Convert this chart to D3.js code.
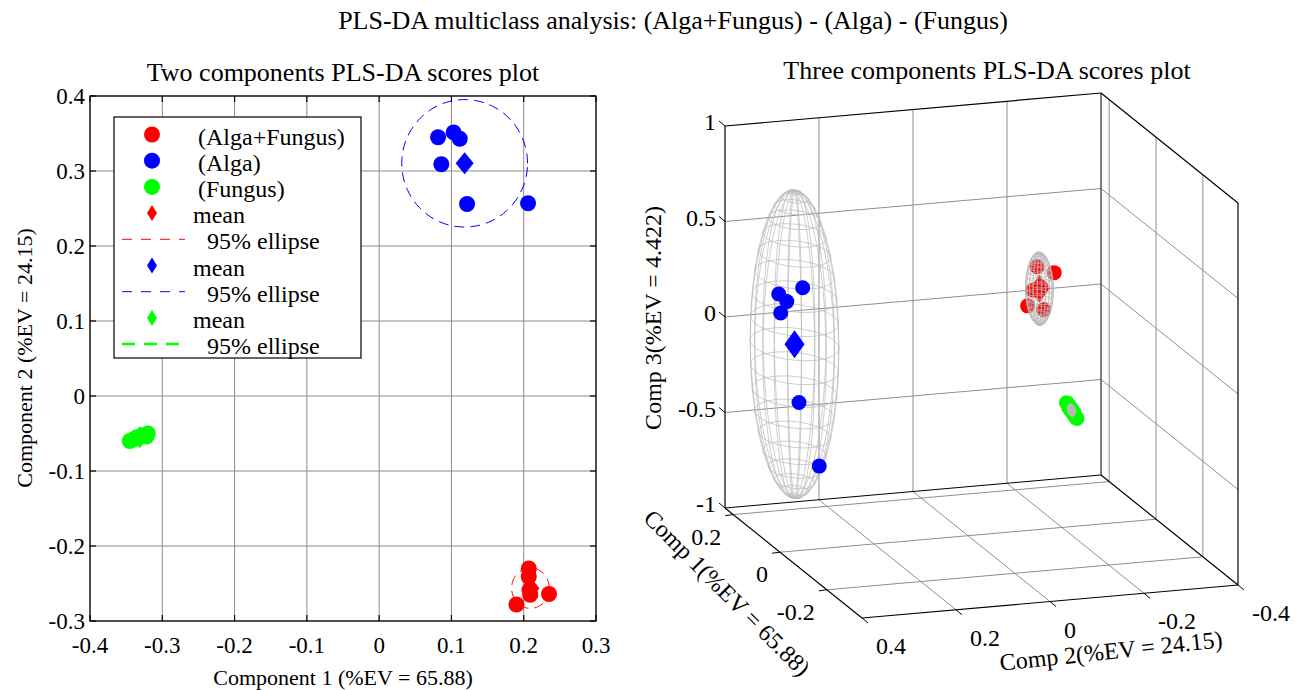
<!DOCTYPE html>
<html>
<head>
<meta charset="utf-8">
<script src="https://cdn.jsdelivr.net/npm/d3@7"></script>
<style>
  body { margin: 0; background: #fff; }
  svg { display: block; }
</style>
</head>
<body>
<div id="chart"></div>
<script>
// Groups
const groupNames = ["(Alga+Fungus)", "(Alga)", "(Fungus)"];
const groupColors = ["#ff0000", "#0000ff", "#00ff00"];

// Scores (comp 1, comp 2, comp 3)
const algaFungusComp1 = [0.207, 0.207, 0.208, 0.209, 0.190, 0.235];
const algaFungusComp2 = [-0.230, -0.241, -0.259, -0.265, -0.278, -0.264];
const algaFungusComp3 = [-0.05, 0.03, 0.04, -0.08, 0.13, 0.12];

const algaComp1 = [0.0815, 0.103, 0.1115, 0.086, 0.1216, 0.206];
const algaComp2 = [0.345, 0.3515, 0.343, 0.309, 0.256, 0.257];
const algaComp3 = [0.22, 0.24, 0.13, 0.28, -0.70, -0.45];

const fungusComp1 = [-0.345, -0.340, -0.335, -0.325, -0.320, -0.322];
const fungusComp2 = [-0.060, -0.058, -0.055, -0.052, -0.050, -0.054];
const fungusComp3 = [-0.06, -0.05, -0.03, -0.01, 0.00, -0.02];

// 95% ellipse / ellipsoid half-axes per group
const ellipseRadius1 = [0.026, 0.087, 0.012];
const ellipseRadius2 = [0.027, 0.085, 0.006];
const ellipsoidRadius3 = [0.19, 0.805, 0.03];

// Ticks
const xTicks2d = [-0.4, -0.3, -0.2, -0.1, 0, 0.1, 0.2, 0.3];
const yTicks2d = [-0.3, -0.2, -0.1, 0, 0.1, 0.2, 0.3, 0.4];
const comp1Ticks3d = [0.2, 0, -0.2];
const comp2Ticks3d = [0.4, 0.2, 0, -0.2, -0.4];
const comp3Ticks3d = [1, 0.5, 0, -0.5, -1];

const comp1Lim = [-0.35, 0.235];
const comp2Lim = [-0.4, 0.4];
const comp3Lim = [-1, 1];

// Build group records
const groups = [
  [algaFungusComp1, algaFungusComp2, algaFungusComp3],
  [algaComp1, algaComp2, algaComp3],
  [fungusComp1, fungusComp2, fungusComp3]
].map((g, i) => {
  const pts = g[0].map((v, k) => ({ c1: v, c2: g[1][k], c3: g[2][k] }));
  return {
    name: groupNames[i],
    color: groupColors[i],
    points: pts,
    mean: { c1: d3.mean(pts, d => d.c1), c2: d3.mean(pts, d => d.c2), c3: d3.mean(pts, d => d.c3) },
    r1: ellipseRadius1[i], r2: ellipseRadius2[i], r3: ellipsoidRadius3[i]
  };
});

const W = 1295, H = 690;
const serif = "'Liberation Serif', 'Times New Roman', serif";
const svg = d3.select("#chart").append("svg").attr("width", W).attr("height", H)
  .attr("font-family", serif);
const fmt = d => d === 0 ? "0" : String(d);
const gridColor = "#8c8c8c";
const tickSize2d = 23, labelSize2d = 22, titleSize = 26, legendSize = 24;
const tickSize3d = 24, labelSize3d = 24;

function diamondPath(w, h) {
  return `M0,${-h}L${w},0L0,${h}L${-w},0Z`;
}

// Title
svg.append("text").attr("x", 673).attr("y", 20).attr("text-anchor", "middle")
  .attr("dominant-baseline", "central").attr("font-size", titleSize)
  .text("PLS-DA multiclass analysis: (Alga+Fungus) - (Alga) - (Fungus)");

// ---------- 2D scores plot ----------
const x2 = d3.scaleLinear().domain([-0.4, 0.3]).range([90, 596]);
const y2 = d3.scaleLinear().domain([-0.3, 0.4]).range([621, 96]);
const g2 = svg.append("g");

g2.append("text").attr("x", 343).attr("y", 72).attr("text-anchor", "middle")
  .attr("dominant-baseline", "central").attr("font-size", titleSize)
  .text("Two components PLS-DA scores plot");

// grid
g2.selectAll(".vgrid").data(xTicks2d).enter().append("line")
  .attr("x1", d => x2(d)).attr("x2", d => x2(d))
  .attr("y1", y2.range()[0]).attr("y2", y2.range()[1])
  .attr("stroke", gridColor).attr("stroke-width", 1);
g2.selectAll(".hgrid").data(yTicks2d).enter().append("line")
  .attr("y1", d => y2(d)).attr("y2", d => y2(d))
  .attr("x1", x2.range()[0]).attr("x2", x2.range()[1])
  .attr("stroke", gridColor).attr("stroke-width", 1);

// box + inward ticks
g2.append("rect").attr("x", x2(-0.4)).attr("y", y2(0.4))
  .attr("width", x2(0.3) - x2(-0.4)).attr("height", y2(-0.3) - y2(0.4))
  .attr("fill", "none").attr("stroke", "#000").attr("stroke-width", 1.2);
xTicks2d.forEach(t => {
  [[y2(-0.3), -6], [y2(0.4), 6]].forEach(([yy, dy]) => {
    g2.append("line").attr("x1", x2(t)).attr("x2", x2(t)).attr("y1", yy).attr("y2", yy + dy)
      .attr("stroke", "#000").attr("stroke-width", 1.2);
  });
});
yTicks2d.forEach(t => {
  [[x2(-0.4), 6], [x2(0.3), -6]].forEach(([xx, dx]) => {
    g2.append("line").attr("y1", y2(t)).attr("y2", y2(t)).attr("x1", xx).attr("x2", xx + dx)
      .attr("stroke", "#000").attr("stroke-width", 1.2);
  });
});

// tick labels
g2.selectAll(".xlab").data(xTicks2d).enter().append("text")
  .attr("x", d => x2(d)).attr("y", 645).attr("text-anchor", "middle")
  .attr("dominant-baseline", "central").attr("font-size", tickSize2d).text(fmt);
g2.selectAll(".ylab").data(yTicks2d).enter().append("text")
  .attr("x", 85).attr("y", d => y2(d)).attr("text-anchor", "end")
  .attr("dominant-baseline", "central").attr("font-size", tickSize2d).text(fmt);

// axis labels
g2.append("text").attr("x", 343).attr("y", 677).attr("text-anchor", "middle")
  .attr("dominant-baseline", "central").attr("font-size", labelSize2d)
  .text("Component 1 (%EV = 65.88)");
g2.append("text").attr("transform", "translate(24,358) rotate(-90)")
  .attr("text-anchor", "middle").attr("dominant-baseline", "central")
  .attr("font-size", labelSize2d).text("Component 2 (%EV = 24.15)");

// scatter
groups.forEach(g => {
  g2.selectAll(null).data(g.points).enter().append("circle")
    .attr("cx", d => x2(d.c1)).attr("cy", d => y2(d.c2)).attr("r", 8)
    .attr("fill", g.color);
});
// means + ellipses
const ellipseLine = d3.line();
groups.forEach((g, i) => {
  g2.append("path").attr("d", diamondPath(9, 11))
    .attr("transform", `translate(${x2(g.mean.c1)},${y2(g.mean.c2)})`)
    .attr("fill", g.color);
  const pts = d3.range(0, 361, 4).map(a => {
    const t = a * Math.PI / 180;
    return [x2(g.mean.c1 + g.r1 * Math.cos(t)), y2(g.mean.c2 + g.r2 * Math.sin(t))];
  });
  g2.append("path").attr("d", ellipseLine(pts)).attr("fill", "none")
    .attr("stroke", g.color).attr("stroke-width", i === 2 ? 2 : 1)
    .attr("stroke-dasharray", "10,6");
});

// legend
const leg = g2.append("g");
leg.append("rect").attr("x", 114).attr("y", 117).attr("width", 247).attr("height", 241)
  .attr("fill", "#fff").attr("stroke", "#000").attr("stroke-width", 1.2);
const rowY = i => 134.5 + i * 26.2;
groups.forEach((g, i) => {
  leg.append("circle").attr("cx", 152).attr("cy", rowY(i)).attr("r", 8).attr("fill", g.color);
  leg.append("text").attr("x", 198).attr("y", rowY(i) + 2).attr("dominant-baseline", "central")
    .attr("font-size", legendSize).text(g.name);
});
groups.forEach((g, i) => {
  const rm = 3 + i * 2, re = 4 + i * 2;
  leg.append("path").attr("d", diamondPath(5, 8))
    .attr("transform", `translate(152,${rowY(rm)})`).attr("fill", g.color);
  leg.append("text").attr("x", 193).attr("y", rowY(rm) + 2).attr("dominant-baseline", "central")
    .attr("font-size", legendSize).text("mean");
  leg.append("line").attr("x1", 122).attr("x2", 185).attr("y1", rowY(re)).attr("y2", rowY(re))
    .attr("stroke", g.color).attr("stroke-width", i === 2 ? 2.5 : 1)
    .attr("stroke-dasharray", i === 2 ? "13,9" : "10,9");
  leg.append("text").attr("x", 207).attr("y", rowY(re) + 2).attr("dominant-baseline", "central")
    .attr("font-size", legendSize).text("95% ellipse");
});

// ---------- 3D scores plot ----------
const g3 = svg.append("g");
g3.append("text").attr("x", 987).attr("y", 70).attr("text-anchor", "middle")
  .attr("dominant-baseline", "central").attr("font-size", titleSize)
  .text("Three components PLS-DA scores plot");

// oblique projection: fractions along each axis through linear scales
const f1 = d3.scaleLinear().domain([comp1Lim[1], comp1Lim[0]]).range([0, 1]);
const f2 = d3.scaleLinear().domain([comp2Lim[1], comp2Lim[0]]).range([0, 1]);
const f3 = d3.scaleLinear().domain(comp3Lim).range([0, 1]);
const origin = [725, 508], v1 = [137, 110], v2 = [376, -33], v3 = [0, -382];
function proj(a, b, c) {
  const t1 = f1(a), t2 = f2(b), t3 = f3(c);
  return [origin[0] + t1 * v1[0] + t2 * v2[0] + t3 * v3[0],
          origin[1] + t1 * v1[1] + t2 * v2[1] + t3 * v3[1]];
}
const c1max = comp1Lim[1], c1min = comp1Lim[0];
function seg(p, q, color, w) {
  g3.append("line").attr("x1", p[0]).attr("y1", p[1]).attr("x2", q[0]).attr("y2", q[1])
    .attr("stroke", color).attr("stroke-width", w);
}
const wallGrid = "#8f8f8f";
// left back wall
comp2Ticks3d.slice(1, -1).forEach(t => seg(proj(c1max, t, -1), proj(c1max, t, 1), wallGrid, 1));
comp3Ticks3d.slice(1, -1).forEach(t => seg(proj(c1max, 0.4, t), proj(c1max, -0.4, t), wallGrid, 1));
// right back wall
comp1Ticks3d.forEach(t => seg(proj(t, -0.4, -1), proj(t, -0.4, 1), wallGrid, 1));
comp3Ticks3d.slice(1, -1).forEach(t => seg(proj(c1max, -0.4, t), proj(c1min, -0.4, t), wallGrid, 1));
// floor
comp1Ticks3d.forEach(t => seg(proj(t, 0.4, -1), proj(t, -0.4, -1), wallGrid, 1));
comp2Ticks3d.slice(1, -1).forEach(t => seg(proj(c1max, t, -1), proj(c1min, t, -1), wallGrid, 1));

// box edges
const A = proj(c1max, 0.4, 1), B = proj(c1max, -0.4, 1), C = proj(c1min, -0.4, 1);
const D = proj(c1max, 0.4, -1), E = proj(c1max, -0.4, -1), F = proj(c1min, -0.4, -1), G = proj(c1min, 0.4, -1);
seg(B, E, "#555", 1.5);
seg(D, E, "#000", 1);
seg(E, F, "#000", 1.2);
[[A, D], [D, G], [G, F], [A, B], [B, C], [C, F]].forEach(([p, q]) => seg(p, q, "#000", 1.2));

// ticks and labels
comp3Ticks3d.forEach(t => {
  const p = proj(c1max, 0.4, t);
  seg(p, [p[0] - 6, p[1] - 5], "#000", 1);
  g3.append("text").attr("x", p[0] - 9).attr("y", p[1] - 4).attr("text-anchor", "end")
    .attr("dominant-baseline", "central").attr("font-size", tickSize3d).text(fmt(t));
});
comp1Ticks3d.forEach(t => {
  const p = proj(t, 0.4, -1);
  seg(p, [p[0] - 8, p[1] + 1], "#000", 1);
  g3.append("text").attr("x", p[0] - 12).attr("y", p[1] + 22).attr("text-anchor", "end")
    .attr("dominant-baseline", "central").attr("font-size", tickSize3d).text(fmt(t));
});
comp2Ticks3d.forEach(t => {
  const p = proj(c1min, t, -1);
  seg(p, [p[0] + 6, p[1] + 5], "#000", 1);
  g3.append("text").attr("x", p[0] + 14).attr("y", p[1] + 28).attr("text-anchor", "start")
    .attr("dominant-baseline", "central").attr("font-size", tickSize3d).text(fmt(t));
});

// axis titles
g3.append("text").attr("transform", "translate(653,318) rotate(-90)")
  .attr("text-anchor", "middle").attr("dominant-baseline", "central")
  .attr("font-size", labelSize3d).text("Comp 3(%EV = 4.422)");
g3.append("text").attr("transform", "translate(727,593) rotate(45)")
  .attr("text-anchor", "middle").attr("dominant-baseline", "central")
  .attr("font-size", labelSize3d).text("Comp 1(%EV = 65.88)");
g3.append("text").attr("transform", "translate(1111,651) rotate(-6)")
  .attr("text-anchor", "middle").attr("dominant-baseline", "central")
  .attr("font-size", labelSize3d).text("Comp 2(%EV = 24.15)");

// ellipsoid wireframe
const meshLine = d3.line();
function drawEllipsoid(g) {
  const n = 20, m = g.mean;
  const pt = (phi, th) => proj(
    m.c1 + g.r1 * Math.cos(phi) * Math.cos(th),
    m.c2 + g.r2 * Math.cos(phi) * Math.sin(th),
    m.c3 + g.r3 * Math.sin(phi));
  const mesh = g3.append("g").attr("fill", "none").attr("stroke", "#b9b9b9")
    .attr("stroke-width", 0.7);
  for (let i = 0; i <= n; i++) {
    const phi = -Math.PI / 2 + i * Math.PI / n;
    mesh.append("path").attr("d", meshLine(d3.range(n + 1).map(j => pt(phi, j * 2 * Math.PI / n))));
  }
  for (let j = 0; j < n; j++) {
    const th = j * 2 * Math.PI / n;
    mesh.append("path").attr("d", meshLine(d3.range(n + 1).map(i => pt(-Math.PI / 2 + i * Math.PI / n, th))));
  }
}

drawEllipsoid(groups[1]);
groups.forEach(g => {
  g3.selectAll(null).data(g.points).enter().append("circle")
    .attr("cx", d => proj(d.c1, d.c2, d.c3)[0]).attr("cy", d => proj(d.c1, d.c2, d.c3)[1])
    .attr("r", 7.5).attr("fill", g.color);
});
groups.forEach(g => {
  const p = proj(g.mean.c1, g.mean.c2, g.mean.c3);
  g3.append("path").attr("d", diamondPath(10, 14))
    .attr("transform", `translate(${p[0]},${p[1]})`).attr("fill", g.color);
});
drawEllipsoid(groups[0]);
drawEllipsoid(groups[2]);

// make sure every label uses the serif face
svg.selectAll("text").attr("font-family", serif);
</script>
</body>
</html>
